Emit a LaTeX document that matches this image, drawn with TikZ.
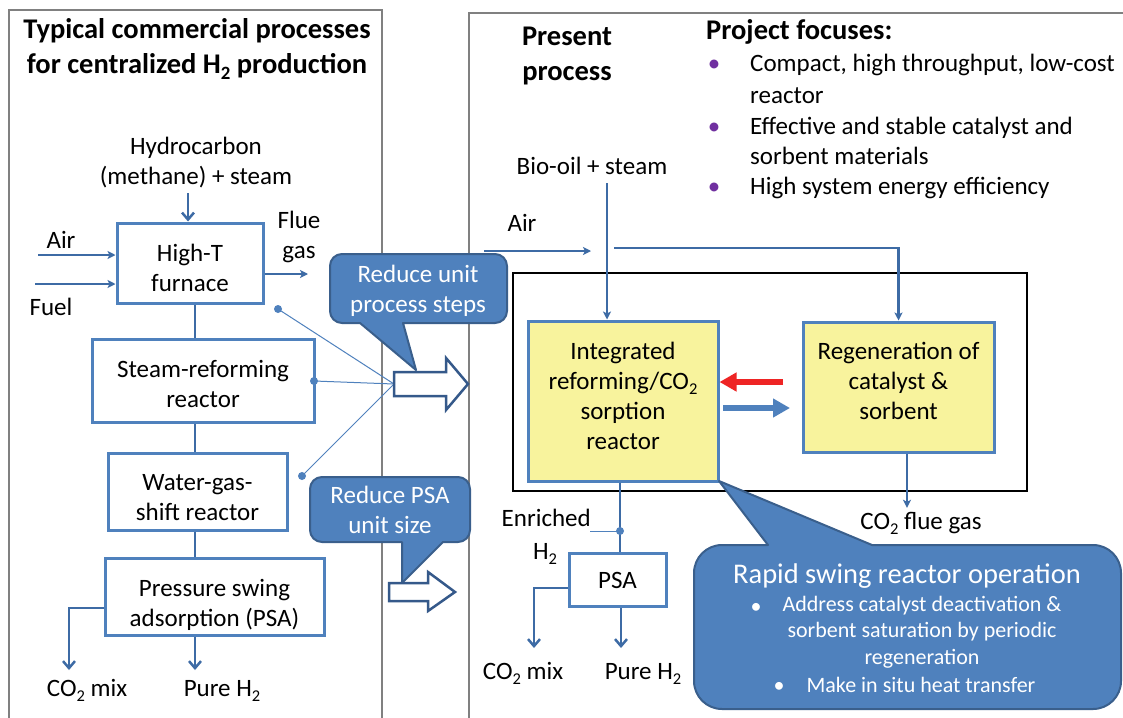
\documentclass[tikz,border=0pt]{standalone}
\usepackage{fontspec}
\setmainfont{Carlito}
\usepackage{graphicx}
\usetikzlibrary{arrows.meta}
\definecolor{framegray}{HTML}{808080}
\definecolor{boxblue}{HTML}{4F81BD}
\definecolor{lineblue}{HTML}{3D6BA5}
\definecolor{calfill}{HTML}{4F81BD}
\definecolor{caldraw}{HTML}{3A5F8C}
\definecolor{hollowdraw}{HTML}{35598A}
\definecolor{yfill}{HTML}{F8F39D}
\definecolor{purp}{HTML}{7030A0}
\definecolor{redar}{HTML}{EE2424}
\newcommand\tsub[1]{\raisebox{-0.22em}{\scalebox{0.66}{#1}}}
\newcommand\up[1]{\rule{0pt}{#1pt}}
\newcommand\dn[1]{\rule[-#1pt]{0pt}{#1pt}}
\newcommand\fsn{\fontsize{25}{30}\selectfont}
\newcommand\fst{\bfseries\fontsize{28.5}{35}\selectfont}
\newcommand\fsb{\fontsize{28.5}{34}\selectfont}
\newcommand\fss{\fontsize{22}{26.5}\selectfont}
\begin{document}
\begin{tikzpicture}[x=1pt,y=-1pt,
  txt/.style={font=\fsn, align=center, inner sep=0pt, execute at begin node=\strut, execute at end node=\strut},
  ttl/.style={font=\fst, align=center, inner sep=0pt, execute at begin node=\strut, execute at end node=\strut},
  box/.style={draw=boxblue, line width=3pt, fill=white, font=\fsn, align=center, inner sep=0pt},
  ybox/.style={box, fill=yfill},
  conn/.style={draw=lineblue, line width=2.5pt},
  arr/.style={conn, -{Stealth[length=8pt,width=8pt,inset=2pt]}},
  barr/.style={conn, -{Straight Barb[length=7pt,width=12pt]}},
  ptrline/.style={draw=boxblue, line width=1pt},
  frame/.style={draw=framegray, line width=2.7pt},
  callout/.style={fill=calfill, draw=caldraw, line width=2pt, line join=round},
  hollow/.style={fill=white, draw=hollowdraw, line width=2.5pt},
  ctxt/.style={txt, text=white},
  stxt/.style={font=\fss, align=center, inner sep=0pt, text=white, execute at begin node=\strut, execute at end node=\strut},
]
\path[use as bounding box, clip] (0,0) rectangle (1123,717);
\fill[white] (0,0) rectangle (1123,717);

% panel frames
\draw[frame] (9,730) -- (9,10) -- (382,10) -- (382,730);
\draw[frame] (469,730) -- (469,13) -- (1140,13);

% ---------------- left panel ----------------
\node[ttl] (ltitle) at (197,51) {Typical commercial processes\\for centralized H\tsub{2} production};
\node[txt] (hc) at (196,165) {Hydrocarbon\\(methane) + steam};
\node[box, minimum width=146pt, minimum height=80pt] (fur) at (190,263) {\up{28}High-T\\furnace};
\node[box, minimum width=222pt, minimum height=83pt] (sr) at (203,380.5) {\up{24}Steam-reforming\\reactor};
\node[box, minimum width=179pt, minimum height=77pt] (wgs) at (197.5,491.5) {\up{28}Water-gas-\\shift reactor};
\node[box, minimum width=219pt, minimum height=77pt] (psa) at (214.5,596.5) {\up{34}Pressure swing\\adsorption (PSA)};

\coordinate (hcx) at (188,0);
\coordinate (sp) at (195,0);
\draw[barr] (hc.south -| hcx) -- (fur.north -| hcx);

\node[txt] (air1) at (61,242) {Air};
\coordinate (air1s) at (38,255);
\draw[arr] (air1s) -- (air1s -| fur.west);
\node[txt] (fuel) at (51,309) {Fuel};
\coordinate (fuels) at (35,284);
\draw[arr] (fuels) -- (fuels -| fur.west);
\node[txt] (flue) at (299,239) {Flue\\gas};
\coordinate (fluee) at (308,274);
\draw[arr] (fluee -| fur.east) -- (fluee);

\draw[conn] (fur.south -| sp) -- (sr.north -| sp);
\draw[conn] (sr.south -| sp) -- (wgs.north -| sp);
\draw[conn] (wgs.south -| sp) -- (psa.north -| sp);

\node[txt] (co2a) at (87,690) {CO\tsub{2} mix};
\node[txt] (h2a) at (222,690) {Pure H\tsub{2}};
\coordinate (co2c) at (69,608);
\coordinate (co2e) at (69,670);
\draw[barr] (co2c -| psa.west) -- (co2c) -- (co2e);
\coordinate (h2e) at (195,670);
\draw[barr] (psa.south -| sp) -- (h2e);

% pointer lines
\coordinate (d1) at (278,309);
\coordinate (d2) at (314,381);
\coordinate (d3) at (302,476);
\coordinate (ha1) at (394,384);
\draw[ptrline] (d1) -- (ha1);
\draw[ptrline] (d2) -- (ha1);
\draw[ptrline] (d3) -- (ha1);
\fill[boxblue] (d1) circle[radius=4];
\fill[boxblue] (d2) circle[radius=4];
\fill[boxblue] (d3) circle[radius=4];

% callout 1
\filldraw[callout] (342,254) -- (495,254) arc[start angle=-90,end angle=0,radius=12] -- (507,311)
  arc[start angle=0,end angle=90,radius=12] -- (403,323) -- (416,370) -- (360,323) -- (342,323)
  arc[start angle=90,end angle=180,radius=12] -- (330,266) arc[start angle=180,end angle=270,radius=12] -- cycle;
\node[ctxt] (c1t) at (418,293) {Reduce unit\\process steps};
% callout 2
\filldraw[callout] (322,477) -- (458,477) arc[start angle=-90,end angle=0,radius=12] -- (470,530)
  arc[start angle=0,end angle=90,radius=12] -- (443,542) -- (402,583) -- (402,542) -- (322,542)
  arc[start angle=90,end angle=180,radius=12] -- (310,489) arc[start angle=180,end angle=270,radius=12] -- cycle;
\node[ctxt] (c2t) at (390,514) {Reduce PSA\\unit size};

% hollow arrows
\draw[hollow] (394,372) -- (446,372) -- (446,358) -- (468,384) -- (446,410) -- (446,396) -- (394,396) -- cycle;
\draw[hollow] (389,583) -- (428,583) -- (428,572) -- (455,592) -- (428,611) -- (428,601) -- (389,601) -- cycle;

% ---------------- right panel ----------------
\node[ttl] (pres) at (567,59) {Present\\process};
\node[ttl, anchor=west] (pf) at (706,33) {Project focuses:};
\node[txt, text=purp] (b1) at (714,65) {•};
\node[txt, text=purp] (b2) at (714,128) {•};
\node[txt, text=purp] (b3) at (714,188) {•};
\node[txt, anchor=west] (f1) at (750,65) {Compact, high throughput, low-cost};
\node[txt, anchor=west] (f1b) at (750,97) {reactor};
\node[txt, anchor=west] (f2) at (750,128) {Effective and stable catalyst and};
\node[txt, anchor=west] (f2b) at (750,158) {sorbent materials};
\node[txt, anchor=west] (f3) at (750,188) {High system energy efficiency};

\draw[black, line width=2.2pt] (513,273) rectangle (1027,491);

\node[ybox, minimum width=190pt, minimum height=160pt] (int) at (623,401) {Integrated\\reforming/CO\tsub{2}\\sorption\\reactor\dn{11}};
\node[ybox, minimum width=191pt, minimum height=130pt] (regen) at (898.5,387) {Regeneration of\\catalyst \&\\sorbent\dn{13}};

\node[txt] (bio) at (592,168) {Bio-oil + steam};
\coordinate (bx) at (607,0);
\draw[arr] (bio.south -| bx) -- (int.north -| bx);

\node[txt] (air2) at (522,225) {Air};
\coordinate (a2s) at (484,251);
\coordinate (a2e) at (591,251);
\draw[arr] (a2s) -- (a2e);
\coordinate (a2r) at (614,248);
\draw[arr] (a2r) -- (a2r -| regen.north) -- (regen.north);

\coordinate (ra) at (783,382);
\draw[draw=redar, line width=6pt, -{Triangle[length=17pt,width=18pt]}] (ra) -- (ra -| int.east);
\coordinate (ba1) at (723,408);
\coordinate (ba2) at (790,408);
\draw[draw=boxblue, line width=6pt, -{Triangle[length=17pt,width=18pt]}] (ba1) -- (ba2);

\node[txt] (co2f) at (921,523) {CO\tsub{2} flue gas};
\coordinate (rx) at (907,0);
\draw[arr] (regen.south -| rx) -- (co2f.north -| rx);

\node[box, minimum width=97pt, minimum height=53pt] (psa2) at (617.5,580) {PSA};
\coordinate (ix) at (620,0);
\draw[conn] (int.south -| ix) -- (psa2.north -| ix);
\coordinate (ed) at (620,531);
\coordinate (el) at (590,531);
\draw[ptrline] (el) -- (ed);
\fill[boxblue] (ed) circle[radius=4];
\node[txt, anchor=east] (enr) at (591,520) {Enriched};
\node[txt] (enrh) at (545,553) {H\tsub{2}};

\node[txt] (co2b) at (523,673) {CO\tsub{2} mix};
\node[txt] (h2b) at (643,673) {Pure H\tsub{2}};
\coordinate (c2) at (534,588);
\coordinate (c2e) at (534,648);
\draw[barr] (c2 -| psa2.west) -- (c2) -- (c2e);
\coordinate (p2e) at (621,648);
\draw[barr] (psa2.south -| p2e) -- (p2e);

% callout 3
\filldraw[callout] (722,545) -- (768,545) -- (719,481) -- (872,545) -- (1093,545)
  arc[start angle=-90,end angle=0,radius=28] -- (1121,681)
  arc[start angle=0,end angle=90,radius=28] -- (722,709)
  arc[start angle=90,end angle=180,radius=28] -- (694,573)
  arc[start angle=180,end angle=270,radius=28] -- cycle;
\node[ctxt, font=\fsb] (rs) at (907,577) {Rapid swing reactor operation};
\node[stxt] (bb1) at (756,608) {•};
\node[stxt] (bl1) at (922,634) {Address catalyst deactivation \&\\sorbent saturation by periodic\\regeneration};
\node[stxt] (bb2) at (779,687) {•};
\node[stxt] (bl2) at (921,687) {Make in situ heat transfer};
\end{tikzpicture}
\end{document}
